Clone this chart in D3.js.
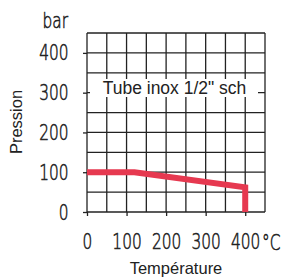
<!DOCTYPE html>
<html>
<head>
<meta charset="utf-8">
<script src="https://cdn.jsdelivr.net/npm/d3@7"></script>
<style>
  body { margin: 0; background: #fff; }
</style>
</head>
<body>
<div id="chart"></div>
<script>
// data
const temps = [0, 120, 400, 400];
const pressures = [100, 100, 62, 0];
const xTicks = [0, 100, 200, 300, 400];
const yTicks = [0, 100, 200, 300, 400];
const gridStep = [0, 50, 100, 150, 200, 250, 300, 350, 400, 450];

const width = 281, height = 278;
const x = d3.scaleLinear().domain([0, 450]).range([87, 265]);
const y = d3.scaleLinear().domain([0, 450]).range([212, 33]);
const ink = "#222";
const thin = "DejaVu Sans";
const squeeze = 0.7; // narrow the thin digits like the original face

const svg = d3.select("#chart").append("svg")
    .attr("width", width)
    .attr("height", height);

// grid
svg.append("g").selectAll("line")
    .data(gridStep).enter().append("line")
    .attr("x1", d => x(d)).attr("x2", d => x(d))
    .attr("y1", y(0)).attr("y2", y(450))
    .attr("stroke", ink).attr("stroke-width", 1.3);
svg.append("g").selectAll("line")
    .data(gridStep).enter().append("line")
    .attr("y1", d => y(d)).attr("y2", d => y(d))
    .attr("x1", x(0)).attr("x2", x(450))
    .attr("stroke", ink).attr("stroke-width", 1.3);

// thin condensed look for numbers
function thinText(sel) {
    sel.attr("font-size", 22)
        .attr("fill", ink)
        .attr("stroke", ink)
        .attr("stroke-width", 0.6)
        .style("font-family", thin)
        .style("font-weight", 200);
}

function styleTicks(g) {
    g.select(".domain").remove();
    g.selectAll(".tick line").attr("stroke", ink).attr("stroke-width", 1.3);
    thinText(g.selectAll(".tick text"));
}

// axes
const gy = svg.append("g").attr("transform", `translate(${x(0)},0)`)
    .call(d3.axisLeft(y).tickValues(yTicks).tickSize(4));
styleTicks(gy);
gy.selectAll(".tick text")
    .attr("x", -18.5 / squeeze)
    .attr("transform", `scale(${squeeze},1)`);

const gx = svg.append("g").attr("transform", `translate(0,${y(0)})`)
    .call(d3.axisBottom(x).tickValues(xTicks).tickSize(4).tickPadding(17));
styleTicks(gx);
gx.selectAll(".tick text").attr("transform", `scale(${squeeze},1)`);

// unit labels
svg.append("text")
    .attr("transform", `translate(68,28) scale(${squeeze},1)`)
    .attr("text-anchor", "end")
    .call(thinText)
    .text("bar");
svg.append("text")
    .attr("transform", `translate(262,250) scale(${squeeze},1)`)
    .call(thinText)
    .text("°C");

// series label box
svg.append("rect").attr("x", 90).attr("y", 79).attr("width", 168).attr("height", 18).attr("fill", "#fff");
svg.append("text").attr("x", 174.5).attr("y", 94).attr("text-anchor", "middle")
    .attr("font-size", 17.5).attr("fill", ink)
    .style("font-family", "Liberation Sans, Arial")
    .text('Tube inox 1/2" sch');

// curve
const line = d3.line().x((d, i) => x(temps[i])).y(d => y(d));
svg.append("path").datum(pressures)
    .attr("d", line)
    .attr("fill", "none")
    .attr("stroke", "#e63950")
    .attr("stroke-width", 6)
    .attr("stroke-linejoin", "miter");

// axis titles
svg.append("text").attr("x", 176).attr("y", 274).attr("text-anchor", "middle")
    .attr("font-size", 16.5).attr("fill", ink)
    .style("font-family", "Liberation Sans, Arial")
    .text("Température");
svg.append("text")
    .attr("transform", "translate(22,122) rotate(-90)")
    .attr("text-anchor", "middle")
    .attr("font-size", 16.5).attr("fill", ink)
    .style("font-family", "Liberation Sans, Arial")
    .text("Pression");
</script>
</body>
</html>
